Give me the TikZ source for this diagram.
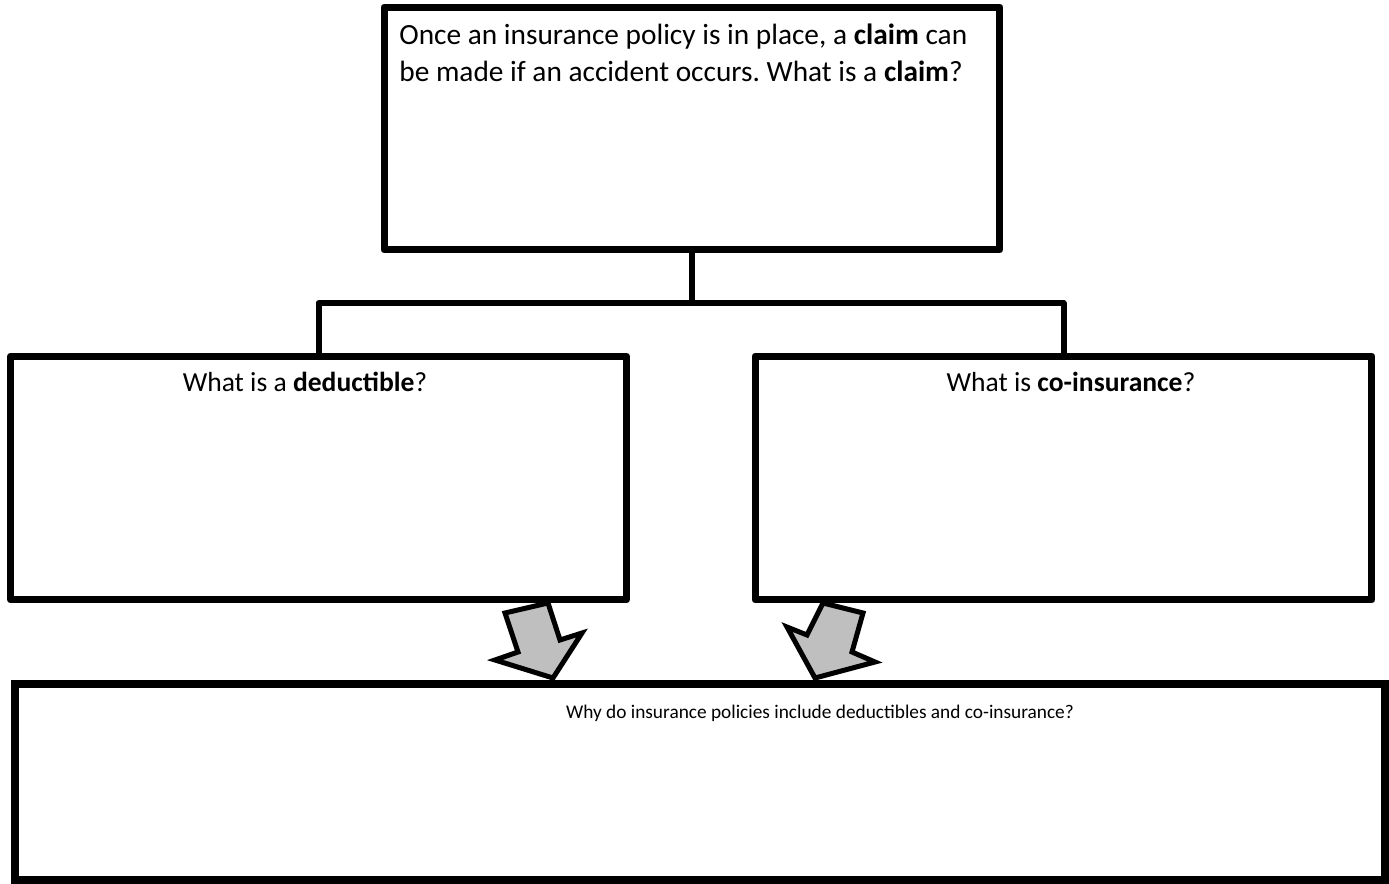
\documentclass[tikz,border=0pt]{standalone}
\usepackage{fontspec}
\setmainfont{Carlito}
\usetikzlibrary{calc}
\frenchspacing
\tikzset{
  box/.style={draw=black, line width=0.14cm, inner sep=0, outer sep=0, line join=round},
  bigbox/.style={draw=black, line width=0.16cm, inner sep=0, outer sep=0},
  conn/.style={line width=0.12cm, line join=round},
  qtext/.style={font=\fontsize{16.7pt}{21pt}\selectfont, inner sep=0},
  sidetext/.style={font=\fontsize{15.7pt}{21pt}\selectfont, inner sep=0},
  whytext/.style={font=\fontsize{11pt}{18pt}\selectfont, inner sep=0},
  bigarrow/.style={draw=black, fill=black!25, line width=0.1cm, line join=miter}
}

\begin{document}
\begin{tikzpicture}[x=0.02cm, y=-0.02cm]
			%%%%% START %%%%%
			\useasboundingbox (0,0) rectangle (1389,884);

			% boxes
			\node[box, minimum width=12.32cm, minimum height=4.86cm] (top) at (692,128.5) {};
			\node[box, minimum width=12.32cm, minimum height=4.88cm] (left) at (318.5,478) {};
			\node[box, minimum width=12.34cm, minimum height=4.88cm] (right) at (1063.5,478) {};
			\node[bigbox, minimum width=27.4cm, minimum height=3.92cm] (bottom) at (700,782) {};

			% connectors
			\coordinate (split) at (692,303);
			\draw[conn] (top.south) -- (split);
			\draw[conn] (left.north) -- (left.north |- split) -- (right.north |- split) -- (right.north);

			% arrows
			\draw[bigarrow] (505,613) -- (548,603) -- (560,640) -- (582,633) -- (553,678) -- (495,660) -- (518,652) -- cycle;
			\draw[bigarrow] (823,603) -- (863,613) -- (852,652) -- (875,662) -- (815,678) -- (787,627) -- (807,635) -- cycle;

			% texts
			\node[qtext, anchor=base west] (toptexta) at (399,45) {Once an insurance policy is in place, a \textbf{claim} can};
			\node[qtext, anchor=base west] (toptextb) at (399,82) {be made if an accident occurs. What is a \textbf{claim}?};
			\node[sidetext, anchor=base] (lefttext) at (305,392) {What is a \textbf{deductible}?};
			\node[sidetext, anchor=base] (righttext) at (1071,392) {What is \textbf{co-insurance}?};
			\node[whytext, anchor=base] (bottomtext) at (820,718) {Why do insurance policies include deductibles and co-insurance?};
			%%%%% END %%%%%
\end{tikzpicture}
\end{document}
